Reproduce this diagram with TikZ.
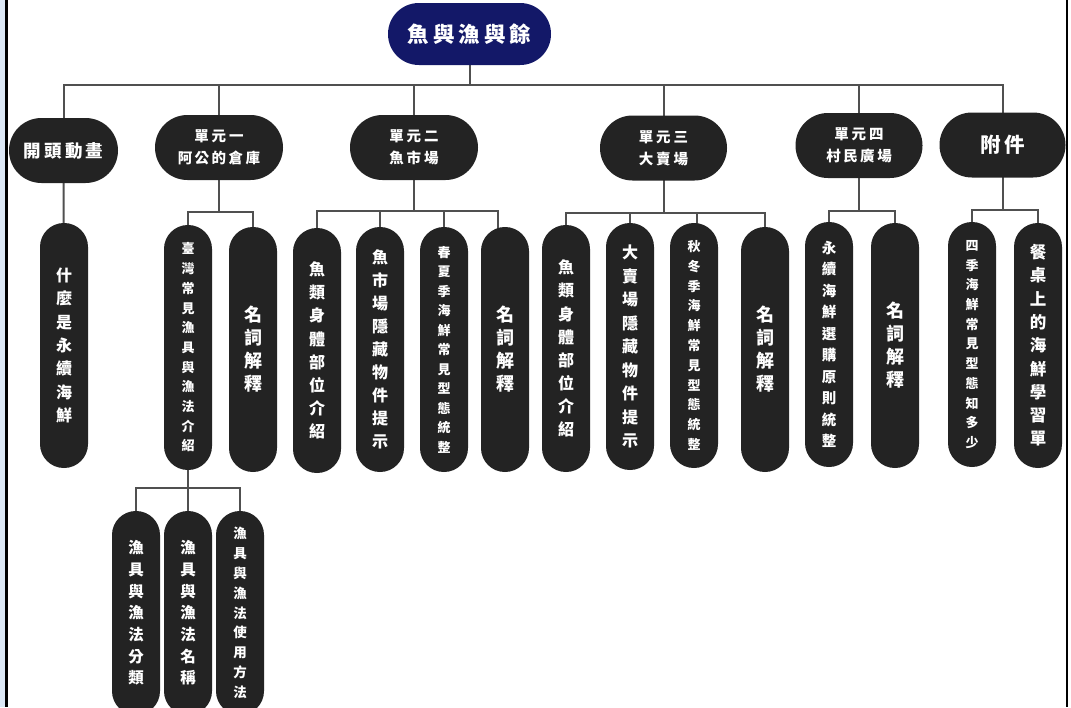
\documentclass[tikz,border=0pt]{standalone}
\usepackage{fontspec}
\newfontfamily\cjk{Noto Sans CJK TC}
\usetikzlibrary{backgrounds}
\definecolor{nodebk}{RGB}{35,35,35}
\definecolor{navy}{RGB}{19,24,104}
\definecolor{connc}{RGB}{80,80,80}
\definecolor{strip}{RGB}{220,232,246}
\tikzset{
  pill/.style={fill=nodebk, text=white, inner sep=0pt, align=center},
  vpill/.style={pill, minimum width=48pt, rounded corners=23.9pt},
  hpill/.style={pill, minimum height=65pt, rounded corners=32.4pt},
  conn/.style={draw=connc, line width=2pt},
}
\newcommand\vnode[7]{\node[vpill, minimum height={#4-#3}, font={\cjk\bfseries\fontsize{#5}{#6}\selectfont}] (#1) at (#2,{(#3+#4)/2}) {#7};}
\newcommand\hsp[1]{\hspace{#1pt}}
\begin{document}
\begin{tikzpicture}[x=1pt,y=-1pt]
\useasboundingbox (0,0) rectangle (1071,707);
\fill[strip] (0,0) rectangle (5,707);
\fill[black] (5,0) rectangle (7.5,707);
% title
\node[pill, fill=navy, minimum width=163pt, minimum height=62pt, rounded corners=30.9pt,
  font={\cjk\bfseries\fontsize{21.5}{25}\selectfont}] (T) at (469.5,34)
  {魚\hsp{4}與\hsp{4}漁\hsp{4}與\hsp{4}餘};
% level 1
\node[hpill, minimum width=109pt, font={\cjk\bfseries\fontsize{17.5}{22}\selectfont}] (L0) at (63.5,150.5)
  {開\hsp{3.2}頭\hsp{3.2}動\hsp{3.2}畫};
\node[hpill, minimum width=128pt, font={\cjk\bfseries\fontsize{14.5}{22}\selectfont}] (L1) at (219,147.5)
  {單\hsp{3}元\hsp{3}一\\阿\hsp{2.5}公\hsp{2.5}的\hsp{2.5}倉\hsp{2.5}庫};
\node[hpill, minimum width=128pt, font={\cjk\bfseries\fontsize{14.5}{22}\selectfont}] (L2) at (414,147.5)
  {單\hsp{3}元\hsp{3}二\\魚\hsp{3}市\hsp{3}場};
\node[hpill, minimum width=127pt, font={\cjk\bfseries\fontsize{14.5}{22}\selectfont}] (L3) at (663.5,148)
  {單\hsp{3}元\hsp{3}三\\大\hsp{3}賣\hsp{3}場};
\node[hpill, minimum width=127pt, font={\cjk\bfseries\fontsize{14.5}{22}\selectfont}] (L4) at (859,145.5)
  {單\hsp{3}元\hsp{3}四\\村\hsp{2.5}民\hsp{2.5}廣\hsp{2.5}場};
\node[hpill, minimum width=126pt, font={\cjk\bfseries\fontsize{20.5}{24}\selectfont}] (L5) at (1002.5,145)
  {附\hsp{3}件};
% level 2
\vnode{A0}{64}{223}{468}{16}{23.3}{什\\麼\\是\\永\\續\\海\\鮮}
\vnode{A1}{188}{225}{470}{13}{19.7}{臺\\灣\\常\\見\\漁\\具\\與\\漁\\法\\介\\紹}
\vnode{A2}{253}{227}{472}{18}{23}{名\\詞\\解\\釋}
\vnode{B1}{317}{228}{473}{16}{23.1}{魚\\類\\身\\體\\部\\位\\介\\紹}
\vnode{B2}{380}{227}{472}{16}{23}{魚\\市\\場\\隱\\藏\\物\\件\\提\\示}
\vnode{B3}{444}{227}{472}{13}{19.5}{春\\夏\\季\\海\\鮮\\常\\見\\型\\態\\統\\整}
\vnode{B4}{505}{227}{472}{18}{23}{名\\詞\\解\\釋}
\vnode{C1}{566}{225}{472}{16}{23.1}{魚\\類\\身\\體\\部\\位\\介\\紹}
\vnode{C2}{630}{223}{470}{16}{23.5}{大\\賣\\場\\隱\\藏\\物\\件\\提\\示}
\vnode{C3}{694}{223}{468}{13}{19.8}{秋\\冬\\季\\海\\鮮\\常\\見\\型\\態\\統\\整}
\vnode{C4}{765}{227}{472}{18}{23}{名\\詞\\解\\釋}
\vnode{D1}{829}{222}{467}{14.5}{21.5}{永\\續\\海\\鮮\\選\\購\\原\\則\\統\\整}
\vnode{D2}{895}{223}{468}{18}{23}{名\\詞\\解\\釋}
\vnode{E1}{972}{222}{467}{13}{19.7}{四\\季\\海\\鮮\\常\\見\\型\\態\\知\\多\\少}
\vnode{E2}{1038}{223}{468}{16.5}{23.3}{餐\\桌\\上\\的\\海\\鮮\\學\\習\\單}
% level 3
\vnode{F1}{136}{511}{715}{15.5}{21.7}{漁\\具\\與\\漁\\法\\分\\類}
\vnode{F2}{188}{511}{715}{15.5}{21.7}{漁\\具\\與\\漁\\法\\名\\稱}
\vnode{F3}{240}{511}{715}{13.5}{19.8}{漁\\具\\與\\漁\\法\\使\\用\\方\\法}
% connectors
\begin{scope}[on background layer]
  \coordinate (h0) at (0,85);
  \draw[conn] (T.center) -- (T.center|-h0);
  \draw[conn] (L0.center) |- (L5.center|-h0) -- (L5.center);
  \foreach \n in {L1,L2,L3,L4} \draw[conn] (\n.center|-h0) -- (\n.center);
  \draw[conn] (L0.center) -- (A0.center);
  \coordinate (h1) at (0,212);
  \draw[conn] (L1.center) -- (L1.center|-h1);
  \draw[conn] (A1.center) |- (A2.center|-h1) -- (A2.center);
  \coordinate (h2) at (0,211);
  \coordinate (tB4) at (498,211);
  \draw[conn] (L2.center) -- (L2.center|-h2);
  \draw[conn] (B1.center) |- (tB4) -- (tB4|-B4.center);
  \draw[conn] (B2.center|-h2) -- (B2.center);
  \draw[conn] (B3.center|-h2) -- (B3.center);
  \coordinate (h3) at (0,213);
  \coordinate (tC3) at (697,213);
  \draw[conn] (L3.center) -- (L3.center|-h3);
  \draw[conn] (C1.center) |- (C4.center|-h3) -- (C4.center);
  \draw[conn] (C2.center|-h3) -- (C2.center);
  \draw[conn] (tC3) -- (tC3|-C3.center);
  \coordinate (h4) at (0,211);
  \draw[conn] (L4.center) -- (L4.center|-h4);
  \draw[conn] (D1.center) |- (D2.center|-h4) -- (D2.center);
  \coordinate (h5) at (0,210);
  \draw[conn] (L5.center) -- (L5.center|-h5);
  \draw[conn] (E1.center) |- (E2.center|-h5) -- (E2.center);
  \coordinate (h6) at (0,488);
  \draw[conn] (A1.center) -- (A1.center|-h6);
  \draw[conn] (F1.center) |- (F3.center|-h6) -- (F3.center);
  \draw[conn] (F2.center|-h6) -- (F2.center);
\end{scope}
\fill[black] (1065.5,0) rectangle (1068,707);
\end{tikzpicture}
\end{document}
